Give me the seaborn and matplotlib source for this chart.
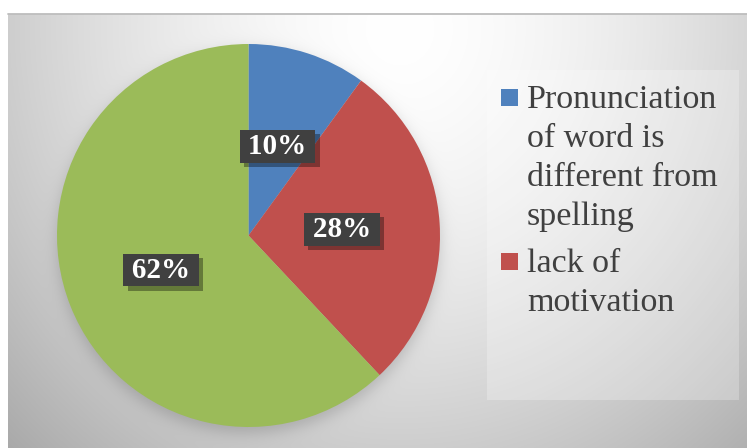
import numpy as np
import matplotlib
matplotlib.use("Agg")
import matplotlib.pyplot as plt
import seaborn as sns
from matplotlib.patches import Rectangle
from matplotlib.lines import Line2D
import matplotlib.patheffects as pe

# ---- data ----
categories = ["Pronunciation of word is different from spelling", "lack of motivation", "other"]
values = [10, 28, 62]
legend_labels = ["Pronunciation\nof word is\ndifferent from\nspelling", "lack of\nmotivation"]
colors = ["#4F81BD", "#C0504D", "#9BBB59"]

sns.set_theme(style="white")
plt.rcParams['font.family'] = ['Liberation Serif', 'DejaVu Serif']

W, H = 747, 448
fig = plt.figure(figsize=(W / 100, H / 100), dpi=100)
fig.patch.set_facecolor('white')


def fx(px):
    return px / W


def fy(py):
    return 1 - py / H


# ---- chart area background (radial gradient + pie shadow) ----
x0, y0, x1, y1 = 8, 14, 747, 448
bg_ax = fig.add_axes([fx(x0), fy(y1), (x1 - x0) / W, (y1 - y0) / H])
yy, xx = np.mgrid[y0:y1, x0:x1] + 0.5
d = np.sqrt(((xx - 400) / 470) ** 2 + ((yy - 30) / 500) ** 2)
val = 255 - 66 * np.clip(d, 0, 1.2) ** 1.6
cx, cy, R = 248.5, 242.0, 191.5
r = np.hypot(xx - cx, yy - cy)
sh = 0.5 * (1 - np.tanh((r - R) / 9.0))
val = val * (1 - 0.17 * sh)
img = np.dstack([val, val, val]) / 255.0
bg_ax.imshow(np.clip(img, 0, 1), aspect='auto', interpolation='bilinear')
bg_ax.set_axis_off()
fig.add_artist(Line2D([fx(8), 1], [fy(14.5), fy(14.5)], color='#bdbdbd', lw=1.3))

# ---- legend panel ----
fig.add_artist(Rectangle((fx(487), fy(400)), (739 - 487) / W, (400 - 70) / H,
                         transform=fig.transFigure, facecolor='white', alpha=0.25,
                         edgecolor='none'))

# ---- pie ----
pcx, pcy, PR = 248.5, 235.5, 191.5
ax = fig.add_axes([fx(pcx - PR), fy(pcy + PR), 2 * PR / W, 2 * PR / H])
wedges, texts, autotexts = ax.pie(
    values, colors=colors, startangle=90, counterclock=False,
    autopct='%.0f%%', pctdistance=0.49,
    wedgeprops=dict(linewidth=0),
    textprops=dict(color='white', fontsize=21, fontweight='bold',
                   family=['Liberation Serif', 'DejaVu Serif']))
ax.set_xlim(-1, 1)
ax.set_ylim(-1, 1)
ax.set_aspect('auto')
ax.set_axis_off()

for t in autotexts:
    t.set_text('\u2009' + t.get_text() + '\u2009')
    t.set_bbox(dict(boxstyle='square,pad=0.1', facecolor='#404040', edgecolor='none'))
    t.get_bbox_patch().set_path_effects(
        [pe.SimplePatchShadow(offset=(3, -3), shadow_rgbFace='black', alpha=0.35), pe.Normal()])

# ---- legend entries ----
ytop = 89
for lab, col in zip(legend_labels, colors[:2]):
    fig.add_artist(Rectangle((fx(501), fy(ytop + 17)), 17 / W, 17 / H,
                             transform=fig.transFigure, facecolor=col, edgecolor='none'))
    fig.text(fx(527), fy(ytop - 4), lab, fontsize=24.5, color='#404040',
             va='top', ha='left', linespacing=1.36)
    ytop += lab.count('\n') * 37 + 37 + 16

fig.savefig('out.png', dpi=100)
